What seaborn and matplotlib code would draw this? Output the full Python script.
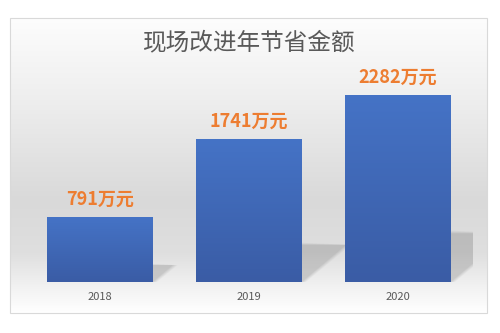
import numpy as np
import pandas as pd
import matplotlib
matplotlib.use("Agg")
import matplotlib.pyplot as plt
import seaborn as sns
from matplotlib.colors import LinearSegmentedColormap
from matplotlib.patches import Polygon, Rectangle
from matplotlib.transforms import IdentityTransform

# Data
years = ["2018", "2019", "2020"]
savings = [791, 1741, 2282]
unit = "万元"
title = "现场改进年节省金额"

sns.set_theme(style="white")
plt.rcParams["font.family"] = ["Noto Sans CJK SC", "DejaVu Sans"]

fig = plt.figure(figsize=(5.0, 3.33), dpi=100)
fig.patch.set_facecolor("white")

# Chart area background: soft vertical grey gradient
bg_ax = fig.add_axes([0.02, 0.0601, 0.954, 0.8859], zorder=0)
stops = [(0.0, "#fdfdfd"), (0.28, "#eeeeee"), (0.62, "#d9d9d9"),
         (0.80, "#dfdfdf"), (0.92, "#f3f3f3"), (1.0, "#ffffff")]
bg_cmap = LinearSegmentedColormap.from_list("bg", stops)
grad = np.linspace(0, 1, 256).reshape(-1, 1)
bg_ax.imshow(grad, aspect="auto", cmap=bg_cmap, extent=[0, 1, 1, 0])
bg_ax.set_xlim(0, 1)
bg_ax.set_ylim(1, 0)
bg_ax.axis("off")
fig.patches.append(Rectangle((0.02, 0.0601), 0.954, 0.8859, transform=fig.transFigure,
                             fill=False, edgecolor="#d9d9d9", linewidth=0.8, zorder=5))

# Plot area
ax = fig.add_axes([0.051, 0.1532, 0.894, 0.6156], zorder=1)
ax.patch.set_alpha(0)
df = pd.DataFrame({"year": years, "value": savings})
sns.barplot(data=df, x="year", y="value", color="#4472C4", width=0.71,
            saturation=1, linewidth=0, ax=ax, zorder=3)
ax.set_xlim(-0.5, 2.5)
ax.set_ylim(0, 2500)
ax.set_xlabel("")
ax.set_ylabel("")
ax.set_yticks([])
for s in ax.spines.values():
    s.set_visible(False)
ax.tick_params(axis="x", length=0, pad=7, labelsize=8, labelcolor="#595959")

fig.canvas.draw()

# Gradient fill and perspective shadow for each bar
bar_cmap = LinearSegmentedColormap.from_list("bar", ["#3a5ca5", "#4573c6"])
vgrad = np.linspace(0, 1, 128).reshape(-1, 1)
for patch, val in zip(ax.patches, savings):
    x0, y0 = patch.get_x(), patch.get_y()
    w, h = patch.get_width(), patch.get_height()
    im = ax.imshow(vgrad, aspect="auto", cmap=bar_cmap, origin="lower",
                   extent=[x0, x0 + w, y0, y0 + h], zorder=3.5)
    im.set_clip_path(patch)

    (px0, py0), (px1, py1) = ax.transData.transform([(x0, y0), (x0 + w, y0 + h)])
    hpx = py1 - py0
    dx, dy = 0.31 * hpx, 0.26 * hpx
    for k, a in enumerate([0.05, 0.06, 0.07, 0.08]):
        grow = (3 - k) * 1.5
        poly = Polygon([(px0, py0 + grow * 0.3), (px1, py0 + grow * 0.3 - grow),
                        (px1 + dx + grow, py0 + dy), (px0 + dx + grow, py0 + dy + grow)],
                       closed=True, transform=IdentityTransform(),
                       facecolor="#5a5a5a", edgecolor="none", alpha=a, zorder=2)
        ax.add_patch(poly)

ax.set_xlim(-0.5, 2.5)
ax.set_ylim(0, 2500)

# Value labels
for i, val in enumerate(savings):
    ax.annotate(f"{val}{unit}", xy=(i, val), xytext=(0, 13), textcoords="offset points",
                ha="center", va="center", fontsize=13, fontweight="bold",
                color="#ED7D31", zorder=6)

fig.text(0.499, 0.871, title, ha="center", va="center", fontsize=17, color="#595959")

fig.savefig("out.png", dpi=100)
